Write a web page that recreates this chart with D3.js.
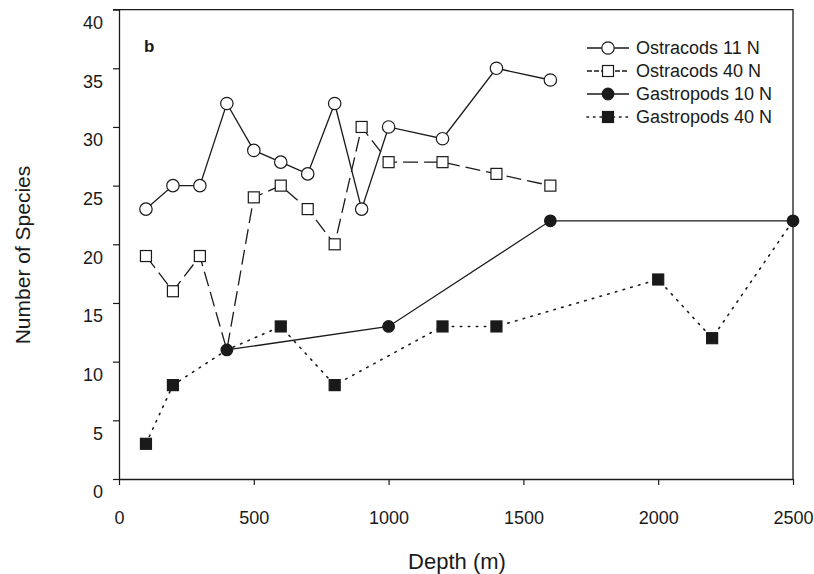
<!DOCTYPE html>
<html>
<head>
<meta charset="utf-8">
<script src="https://cdn.jsdelivr.net/npm/d3@7"></script>
<style>
  body { margin: 0; background: #fff; }
  svg { font-family: "Liberation Sans", Arial, sans-serif; }
</style>
</head>
<body>
<div id="chart"></div>
<script>
// values
let depthOstr = [100, 200, 300, 400, 500, 600, 700, 800, 900, 1000, 1200, 1400, 1600];
let ostracods11N = [23, 25, 25, 32, 28, 27, 26, 32, 23, 30, 29, 35, 34];
let ostracods40N = [19, 16, 19, 11, 24, 25, 23, 20, 30, 27, 27, 26, 25];
let depthGast10 = [400, 1000, 1600, 2500];
let gastropods10N = [11, 13, 22, 22];
let depthGast40 = [100, 200, 400, 600, 800, 1200, 1400, 2000, 2200, 2500];
let gastropods40N = [3, 8, 11, 13, 8, 13, 13, 17, 12, 22];

let xTicks = [0, 500, 1000, 1500, 2000, 2500];
let yTicks = [0, 5, 10, 15, 20, 25, 30, 35, 40];

let ink = "#1a1a1a";

let series = [
  { name: "Ostracods 11 N", x: depthOstr, y: ostracods11N, marker: "circle", filled: false, dash: null, lw: 1.3 },
  { name: "Ostracods 40 N", x: depthOstr, y: ostracods40N, marker: "square", filled: false, dash: "15,6", lw: 1.3 },
  { name: "Gastropods 10 N", x: depthGast10, y: gastropods10N, marker: "circle", filled: true, dash: null, lw: 1.3 },
  { name: "Gastropods 40 N", x: depthGast40, y: gastropods40N, marker: "square", filled: true, dash: "1.5,6.5", lw: 1.6 }
];

let width = 814, height = 574;
let svg = d3.select('#chart').append('svg')
  .attr('width', width)
  .attr('height', height);

let x = d3.scaleLinear().domain([0, 2500]).range([119, 793]);
let y = d3.scaleLinear().domain([0, 40]).range([479, 9.6]);

// frame (top and right edges)
svg.append('path')
  .attr('d', `M ${x(0) - 6} ${y(40)} H ${x(2500)} V ${y(0)}`)
  .attr('fill', 'none')
  .attr('stroke', ink)
  .attr('stroke-width', 1.3);

// axes
let xAxis = svg.append('g')
  .attr('transform', `translate(0,${y(0)})`)
  .call(d3.axisBottom(x).tickValues(xTicks).tickSize(6).tickSizeOuter(0).tickFormat(d3.format('d')));
xAxis.selectAll('text').attr('y', 32).style('font-size', '18px');

let yAxis = svg.append('g')
  .attr('transform', `translate(${x(0)},0)`)
  .call(d3.axisLeft(y).tickValues(yTicks).tickSize(6).tickSizeOuter(0));
yAxis.selectAll('text')
  .attr('x', -16)
  .attr('transform', 'translate(0,13)')
  .style('font-size', '18px');

svg.selectAll('.domain').attr('stroke', ink).attr('stroke-width', 1.3);
svg.selectAll('.tick line').attr('stroke', ink).attr('stroke-width', 1.2);
svg.selectAll('.tick text').attr('fill', ink);

// axis titles
svg.append('text')
  .attr('x', 457)
  .attr('y', 561)
  .attr('text-anchor', 'middle')
  .attr('dominant-baseline', 'central')
  .attr('fill', ink)
  .style('font-size', '22px')
  .text('Depth (m)');

svg.append('text')
  .attr('transform', 'translate(22,255) rotate(-90)')
  .attr('text-anchor', 'middle')
  .attr('dominant-baseline', 'central')
  .attr('fill', ink)
  .style('font-size', '21px')
  .text('Number of Species');

svg.append('text')
  .attr('x', 144)
  .attr('y', 52)
  .attr('fill', ink)
  .style('font-size', '17px')
  .style('font-weight', 'bold')
  .text('b');

let line = d3.line()
  .x(d => x(d[0]))
  .y(d => y(d[1]));

function drawMarker(g, s, cx, cy) {
  if (s.marker === 'circle') {
    g.append('circle')
      .attr('cx', cx).attr('cy', cy)
      .attr('r', s.filled ? 5.8 : 6.2)
      .attr('fill', s.filled ? ink : '#fff')
      .attr('stroke', ink)
      .attr('stroke-width', 1.2);
  } else {
    let a = 11;
    g.append('rect')
      .attr('x', cx - a / 2).attr('y', cy - a / 2)
      .attr('width', a).attr('height', a)
      .attr('fill', s.filled ? ink : '#fff')
      .attr('stroke', ink)
      .attr('stroke-width', 1.2);
  }
}

// lines first, markers on top
let linesG = svg.append('g');
series.forEach(s => {
  let pts = s.x.map((d, i) => [d, s.y[i]]);
  linesG.append('path')
    .datum(pts)
    .attr('d', line)
    .attr('fill', 'none')
    .attr('stroke', ink)
    .attr('stroke-width', s.lw)
    .attr('stroke-linecap', s.dash && s.dash.startsWith('1.5') ? 'round' : 'butt')
    .attr('stroke-dasharray', s.dash);
});

// squares sitting under a gastropod 10 N circle are hidden in the figure
function coveredBy10N(d, v) {
  return depthGast10.some((g, i) => g === d && gastropods10N[i] === v);
}

let markG = svg.append('g');
[1, 0, 3, 2].forEach(k => {
  let s = series[k];
  s.x.forEach((d, i) => {
    if ((k === 1 || k === 3) && coveredBy10N(d, s.y[i])) return;
    drawMarker(markG, s, x(d), y(s.y[i]));
  });
});

// legend
let legend = svg.append('g');
series.forEach((s, i) => {
  let ly = 48 + i * 23;
  legend.append('line')
    .attr('x1', 587).attr('x2', 629)
    .attr('y1', ly).attr('y2', ly)
    .attr('stroke', ink)
    .attr('stroke-width', s.lw)
    .attr('stroke-linecap', i === 3 ? 'round' : 'butt')
    .attr('stroke-dasharray', s.dash ? (i === 1 ? '5,2' : '1.5,5') : null);
  drawMarker(legend, s, 608, ly);
  legend.append('text')
    .attr('x', 636)
    .attr('y', ly)
    .attr('dominant-baseline', 'central')
    .attr('fill', ink)
    .style('font-size', '18px')
    .text(s.name);
});
</script>
</body>
</html>
